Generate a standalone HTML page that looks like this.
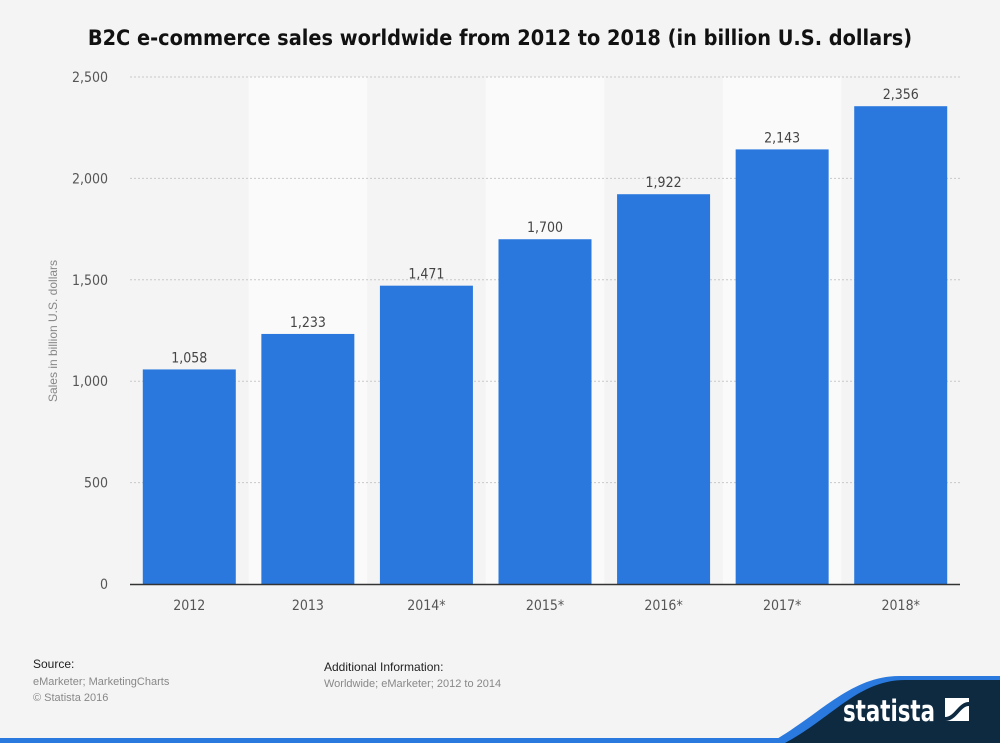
<!DOCTYPE html>
<html><head><meta charset="utf-8"><style>
body{margin:0;width:1000px;height:743px;background:#f4f4f4;font-family:"Liberation Sans","DejaVu Sans",sans-serif;overflow:hidden;position:relative}
.t{position:absolute}
</style></head><body>
<div class="t" style="left:0;width:1000px;top:26px;text-align:center;font-weight:bold;font-size:21.5px;color:#111;font-family:'DejaVu Sans Condensed','DejaVu Sans',sans-serif;font-stretch:condensed">B2C e-commerce sales worldwide from 2012 to 2018 (in billion U.S. dollars)</div>
<svg id="chart" width="1000" height="743" style="position:absolute;left:0;top:0"></svg>
<div class="t" style="left:33px;top:657px;font-size:12px;color:#222">Source:</div>
<div class="t" style="left:33px;top:674px;font-size:11px;color:#888;line-height:16px">eMarketer; MarketingCharts<br>© Statista 2016</div>
<div class="t" style="left:324px;top:660px;font-size:12px;color:#222">Additional Information:</div>
<div class="t" style="left:324px;top:678px;font-size:11px;color:#888">Worldwide; eMarketer; 2012 to 2014</div>
<svg width="1000" height="743" style="position:absolute;left:0;top:0">
<rect x="0" y="738" width="1000" height="5" fill="#2a79de"/>
<path d="M770,743 C820,715 850,676 900,676 L1000,676 L1000,743 Z" fill="#2a79de"/>
<path d="M785,743 C832,718 858,680 905,680 L1000,680 L1000,743 Z" fill="#0d2a41"/>
<text x="843" y="721" fill="#fff" font-size="29" font-weight="bold" textLength="92" lengthAdjust="spacingAndGlyphs" font-family="DejaVu Sans Condensed,DejaVu Sans,sans-serif">statista</text>
<rect x="945" y="698" width="24" height="23" fill="#fff"/>
<path d="M945,717 C955,717 958,702 969,702 L969,706 C960,706 957,721 945,721 Z" fill="#0d2a41"/>
</svg>
<script>
const categories=["2012","2013","2014*","2015*","2016*","2017*","2018*"];
const values=[1058,1233,1471,1700,1922,2143,2356];
const labels=["1,058","1,233","1,471","1,700","1,922","2,143","2,356"];
const ticks=[0,500,1000,1500,2000,2500];
const tickLabels=["0","500","1,000","1,500","2,000","2,500"];
const svg=document.getElementById('chart');const NS='http://www.w3.org/2000/svg';
const x0=130,x1=960,y0=584,y1=77,maxV=2500;
const bw=(x1-x0)/categories.length;
const y=v=>y0-(v/maxV)*(y0-y1);
const xb=i=>x0+i*bw;
function mk(t,a){const e=document.createElementNS(NS,t);for(const k in a)e.setAttribute(k,a[k]);svg.appendChild(e);return e;}
categories.forEach((c,i)=>{if(i%2==1){const r=mk('rect',{x:xb(i),y:y1,width:bw,height:y0-y1,fill:'#fafafa'});

}});
ticks.forEach((t,i)=>{if(t>0){const l=mk('line',{x1:x0,x2:x1,y1:y(t),y2:y(t),stroke:'#c8c8c8','stroke-dasharray':'2,2'});

}
const tx=mk('text',{x:108,y:y(t)+5,'text-anchor':'end','font-size':14,fill:'#555','font-family':'DejaVu Sans Condensed,DejaVu Sans,sans-serif'});tx.textContent=tickLabels[i];

});
categories.forEach((c,i)=>{const w=93,bx=xb(i)+(bw-w)/2;
const r=mk('rect',{x:bx,y:y(values[i]),width:w,height:y0-y(values[i]),fill:'#2a78de'});


const v=mk('text',{x:bx+w/2,y:y(values[i])-7,'text-anchor':'middle','font-size':14,fill:'#444','font-family':'DejaVu Sans Condensed,DejaVu Sans,sans-serif'});v.textContent=labels[i];


const xl=mk('text',{x:bx+w/2,y:610,'text-anchor':'middle','font-size':14,fill:'#555','font-family':'DejaVu Sans Condensed,DejaVu Sans,sans-serif'});xl.textContent=c;

});
const ax=mk('line',{x1:x0,x2:x1,y1:y0+0.5,y2:y0+0.5,stroke:'#333','stroke-width':1.5});


const yt=mk('text',{x:0,y:0,transform:'translate(57,331) rotate(-90)','text-anchor':'middle','font-size':12,fill:'#888'});yt.textContent='Sales in billion U.S. dollars';


</script>
</body></html>
